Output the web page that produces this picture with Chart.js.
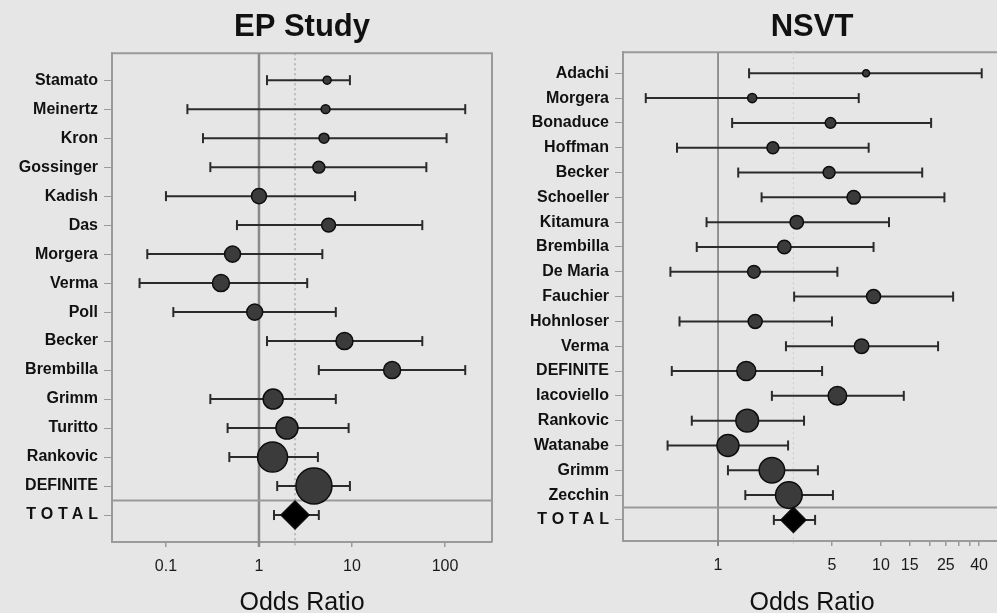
<!DOCTYPE html>
<html>
<head>
<meta charset="utf-8">
<script src="https://cdn.jsdelivr.net/npm/chart.js@4.4.1/dist/chart.umd.min.js"></script>
<style>
  html, body { margin: 0; padding: 0; background: #e6e6e6; overflow: hidden; }
  #wrap { position: relative; width: 997px; height: 613px; overflow: hidden; }
  #epChart { position: absolute; left: 0; top: 0; }
  #nsvtChart { position: absolute; left: 500px; top: 0; }
</style>
</head>
<body>
<div id="wrap">
  <canvas id="epChart" width="500" height="622"></canvas>
  <canvas id="nsvtChart" width="502" height="622"></canvas>
</div>
<script>
/* Forest plots: odds ratios with 95% CI, EP study vs NSVT */

var epStudies = ['Stamato', 'Meinertz', 'Kron', 'Gossinger', 'Kadish', 'Das', 'Morgera', 'Verma', 'Poll',
  'Becker', 'Brembilla', 'Grimm', 'Turitto', 'Rankovic', 'DEFINITE', 'TOTAL'];
var epOR     = [5.4, 5.2, 5.0, 4.4, 1.0, 5.6, 0.52, 0.39, 0.9, 8.3, 27, 1.42, 2.0, 1.4, 3.9, 2.44];
var epLow    = [1.22, 0.17, 0.25, 0.30, 0.10, 0.58, 0.063, 0.052, 0.12, 1.22, 4.4, 0.30, 0.46, 0.48, 1.57, 1.45];
var epHigh   = [9.5, 165, 104, 63, 10.8, 57, 4.8, 3.3, 6.7, 57, 165, 6.7, 9.2, 4.3, 9.5, 4.4];
var epWeight = [1.2, 1.5, 1.9, 2.7, 4.3, 3.7, 4.9, 5.5, 4.9, 5.5, 5.5, 7.6, 9.2, 17.1, 24.6, null];
var epTicks  = [0.1, 1, 10, 100];

var nsvtStudies = ['Adachi', 'Morgera', 'Bonaduce', 'Hoffman', 'Becker', 'Schoeller', 'Kitamura', 'Brembilla',
  'De Maria', 'Fauchier', 'Hohnloser', 'Verma', 'DEFINITE', 'Iacoviello', 'Rankovic', 'Watanabe', 'Grimm',
  'Zecchin', 'TOTAL'];
var nsvtOR     = [8.1, 1.62, 4.9, 2.17, 4.8, 6.8, 3.04, 2.55, 1.66, 9.0, 1.69, 7.6, 1.49, 5.4, 1.51, 1.15, 2.14, 2.72, 2.9];
var nsvtLow    = [1.55, 0.36, 1.22, 0.56, 1.33, 1.85, 0.85, 0.74, 0.51, 2.93, 0.58, 2.61, 0.52, 2.14, 0.69, 0.49, 1.15, 1.47, 2.2];
var nsvtHigh   = [41.5, 7.3, 20.3, 8.4, 17.9, 24.5, 11.2, 9.0, 5.4, 27.7, 5.0, 22.4, 4.35, 13.8, 3.37, 2.69, 4.1, 5.07, 3.94];
var nsvtWeight = [1.0, 1.7, 2.3, 2.9, 2.9, 3.7, 3.7, 3.7, 3.3, 4.0, 4.0, 4.3, 7.4, 7.0, 10.5, 9.9, 13.2, 14.5, null];
var nsvtTicks  = [1, 5, 10, 15, 20, 25, 30, 35, 40];
var nsvtTickLabels = [1, 5, 10, 15, 25, 40];

var FONT = '"Liberation Sans", Arial, Helvetica, sans-serif';
var BOX = '#9a9a9a';
var INK = '#111111';

Chart.defaults.font.family = FONT;
Chart.defaults.color = INK;

function forestChart(id, p) {
  var last = p.names.length - 1;

  function line(ctx, x0, y0, x1, y1) {
    ctx.beginPath();
    ctx.moveTo(x0, y0);
    ctx.lineTo(x1, y1);
    ctx.stroke();
  }

  function radius(c) {
    var i = c.dataIndex;
    return i === last ? p.diamond : p.k * Math.sqrt(p.weight[i]);
  }

  var forest = {
    id: 'forest',
    beforeDatasetsDraw: function (chart) {
      var ctx = chart.ctx, a = chart.chartArea, xs = chart.scales.x, ys = chart.scales.y;
      ctx.save();
      // top and right edges of the frame
      ctx.strokeStyle = BOX;
      ctx.lineWidth = 2;
      ctx.beginPath();
      ctx.moveTo(a.left, a.top);
      ctx.lineTo(a.right, a.top);
      ctx.lineTo(a.right, a.bottom);
      ctx.stroke();

      // no-effect line at OR = 1
      var x1 = xs.getPixelForValue(1);
      ctx.strokeStyle = '#8a8a8a';
      ctx.lineWidth = p.nullWidth;
      line(ctx, x1, a.top, x1, a.bottom + 5);

      // dotted line at the pooled estimate
      var xp = xs.getPixelForValue(p.or[last]);
      ctx.setLineDash([2, 3]);
      ctx.strokeStyle = p.dotColor;
      ctx.lineWidth = 1.2;
      line(ctx, xp, a.top, xp, a.bottom + 5);
      ctx.setLineDash([]);

      // separator above TOTAL
      var yd = (ys.getPixelForValue(last - 1) + ys.getPixelForValue(last)) / 2;
      ctx.strokeStyle = BOX;
      ctx.lineWidth = 2;
      line(ctx, a.left, yd, a.right, yd);

      // confidence intervals
      ctx.strokeStyle = '#2b2b2b';
      ctx.lineWidth = 2;
      for (var i = 0; i <= last; i++) {
        var y = ys.getPixelForValue(i);
        var xl = xs.getPixelForValue(p.low[i]);
        var xh = xs.getPixelForValue(p.high[i]);
        line(ctx, xl, y, xh, y);
        line(ctx, xl, y - 5, xl, y + 5);
        line(ctx, xh, y - 5, xh, y + 5);
      }
      ctx.restore();
    },
    afterDraw: function (chart) {
      // spaced-out TOTAL label
      var ctx = chart.ctx, ys = chart.scales.y;
      ctx.save();
      ctx.font = 'bold 16px ' + FONT;
      ctx.letterSpacing = '5px';
      ctx.fillStyle = INK;
      ctx.textAlign = 'right';
      ctx.textBaseline = 'middle';
      ctx.fillText(p.names[last], chart.chartArea.left - 14 + 5, ys.getPixelForValue(last));
      ctx.restore();
    }
  };

  return new Chart(document.getElementById(id), {
    type: 'scatter',
    data: {
      datasets: [{
        data: p.or.map(function (v, i) { return { x: v, y: i }; }),
        pointStyle: function (c) { return c.dataIndex === last ? 'rectRot' : 'circle'; },
        pointRadius: radius,
        pointHoverRadius: radius,
        backgroundColor: function (c) { return c.dataIndex === last ? '#000000' : '#3b3b3b'; },
        borderColor: '#0d0d0d',
        borderWidth: 1.5
      }]
    },
    options: {
      responsive: false,
      animation: false,
      events: [],
      layout: { autoPadding: false, padding: { right: p.padRight } },
      plugins: {
        legend: { display: false },
        tooltip: { enabled: false },
        title: {
          display: true,
          text: p.title,
          fullSize: false,
          color: INK,
          font: { size: 31, weight: 'bold' },
          padding: { top: 9, bottom: p.titleGap }
        }
      },
      scales: {
        x: {
          type: 'logarithmic',
          min: p.min,
          max: p.max,
          afterFit: function (s) {
            s.height = p.xHeight;
            s.paddingLeft = 0;
            s.paddingRight = 0;
          },
          afterBuildTicks: function (s) {
            s.ticks = p.ticks.map(function (v) { return { value: v }; });
          },
          ticks: {
            autoSkip: false,
            maxRotation: 0,
            padding: 10,
            color: '#1a1a1a',
            font: { size: 16 },
            callback: function (v) { return p.tickLabels.indexOf(v) >= 0 ? String(v) : ''; }
          },
          grid: { drawOnChartArea: false, tickLength: 5, color: BOX, lineWidth: 1.5 },
          border: { display: true, color: BOX, width: 2 },
          title: {
            display: true,
            text: 'Odds Ratio',
            color: INK,
            font: { size: 25 },
            padding: { top: 0, bottom: 4 }
          }
        },
        y: {
          type: 'linear',
          reverse: true,
          min: -p.padRows,
          max: last + p.padRows,
          afterFit: function (s) {
            s.width = p.yWidth;
            s.paddingTop = 0;
            s.paddingBottom = 0;
          },
          afterBuildTicks: function (s) {
            s.ticks = p.names.map(function (n, i) { return { value: i }; });
          },
          ticks: {
            autoSkip: false,
            padding: 6,
            color: INK,
            font: { size: 16, weight: 'bold' },
            callback: function (v) { return v === last ? '' : p.names[v]; }
          },
          grid: { drawOnChartArea: false, tickLength: 8, color: BOX },
          border: { display: true, color: BOX, width: 2 }
        }
      }
    },
    plugins: [forest]
  });
}

forestChart('epChart', {
  title: 'EP Study',
  names: epStudies, or: epOR, low: epLow, high: epHigh, weight: epWeight,
  ticks: epTicks, tickLabels: epTicks,
  min: 0.0263, max: 320,
  k: 3.63, diamond: 14,
  padRows: 0.93, yWidth: 112, padRight: 8, xHeight: 80, titleGap: 7,
  nullWidth: 2.5, dotColor: '#9c9c9c'
});

forestChart('nsvtChart', {
  title: 'NSVT',
  names: nsvtStudies, or: nsvtOR, low: nsvtLow, high: nsvtHigh, weight: nsvtWeight,
  ticks: nsvtTicks, tickLabels: nsvtTickLabels,
  min: 0.261, max: 54.5,
  k: 3.5, diamond: 12.5,
  padRows: 0.85, yWidth: 123, padRight: 1, xHeight: 81, titleGap: 6,
  nullWidth: 1.8, dotColor: '#cfcfcf'
});
</script>
</body>
</html>
